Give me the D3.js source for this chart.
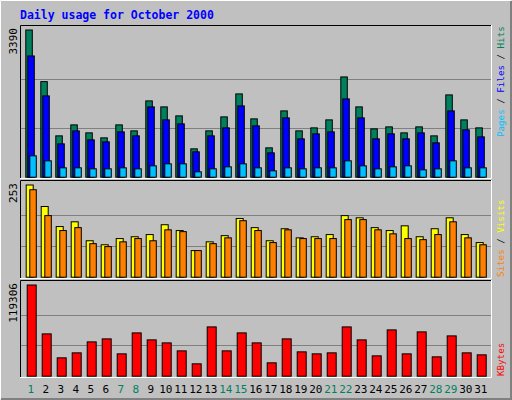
<!DOCTYPE html><html><head><meta charset="utf-8"><script src="https://cdn.jsdelivr.net/npm/d3@7"></script>
<style>body{margin:0;background:#fff}</style></head><body><svg id="c" width="512" height="400"></svg><script>
const days=d3.range(1,32);
const weekend=[1,7,8,14,15,21,22,28,29];
const hits=[3390,2201,952,1205,1021,906,1205,1067,1757,1619,1412,653,1067,1389,1918,1343,676,1527,1067,1136,1320,2309,1619,1113,1159,1021,1159,952,1895,1320,1136];
const files=[2792,1872,768,1067,860,814,1044,952,1619,1320,1228,584,952,1136,1642,1182,561,1366,883,998,1044,1803,1366,883,998,883,1021,791,1527,1090,929];
const pages=[492,377,216,216,193,193,216,193,262,308,308,124,193,239,308,216,147,216,193,216,216,377,262,193,239,262,170,193,377,216,216];
const visits=[253,194,139,152,100,89,106,111,117,144,128,73,97,114,161,136,100,133,108,111,117,169,163,136,128,141,111,133,163,117,95];
const sites=[240,169,128,136,92,84,97,106,100,130,125,73,92,108,155,128,95,130,106,106,106,158,158,130,119,106,103,117,152,108,89];
const kbytes=[119306,55345,24018,30544,44902,48818,29239,56650,47513,43597,33155,16186,64482,33155,56650,43597,17491,48818,31849,29239,30544,64482,47513,26628,60566,29239,57955,25323,52734,30544,27933];
const maxLabels=["3390","253","119306"];

const svg=d3.select("#c");
const F="'DejaVu Sans Mono', monospace";
svg.append("rect").attr("x",0).attr("y",0).attr("width",512).attr("height",400).attr("fill","#c0c0c0");
svg.append("path").attr("d","M0.5,399.5V0.5H511.5").attr("stroke","#fff").attr("fill","none");
svg.append("path").attr("d","M1,399H511V1").attr("stroke","#808080").attr("stroke-width",2).attr("fill","none");
svg.append("text").attr("x",20).attr("y",19).attr("fill","#0000ff").attr("font-family",F).attr("font-weight","bold").attr("font-size",11.5).text("Daily usage for October 2000");

const x=d3.scaleLinear().domain([1,31]).range([25.3,475.3]);
const panels=[
 {top:25,bot:178,base:176.7,max:3390,lab:maxLabels[0]},
 {top:180,bot:278,base:276.7,max:253,lab:maxLabels[1]},
 {top:280,bot:377,base:375.7,max:119306,lab:maxLabels[2]}];
panels.forEach(p=>{
 svg.append("path").attr("d",`M${20.5},${p.bot}V${p.top+0.5}H491.5`).attr("stroke","#000").attr("fill","none");
 svg.append("path").attr("d",`M20,${p.bot+0.5}H491.5V${p.top}`).attr("stroke","#fff").attr("fill","none");
 p.y=d3.scaleLinear().domain([0,p.max]).range([p.base,p.base-(p.base-p.top-4.5)]);
 [1/3,2/3].forEach(f=>svg.append("line").attr("x1",21).attr("x2",491).attr("y1",Math.round(p.y(p.max*f))+0.5).attr("y2",Math.round(p.y(p.max*f))+0.5).attr("stroke","#808080"));
 svg.append("text").attr("transform",`translate(17,${p.top+3}) rotate(-90)`).attr("text-anchor","end").attr("font-family",F).attr("font-size",11).attr("fill","#000").text(p.lab);
});
function bars(data,p,dx,w,color){
 svg.append("g").selectAll("rect").data(data).join("rect")
  .attr("x",(d,i)=>x(days[i])+dx+0.5).attr("width",w-1)
  .attr("y",d=>p.y(d)+0.5).attr("height",d=>p.base-p.y(d))
  .attr("fill",color).attr("stroke","#000");
}
bars(hits,panels[0],0,7.5,"#00805c");
bars(files,panels[0],2,7.5,"#0000ff");
bars(pages,panels[0],4,7.5,"#00c0ff");
bars(visits,panels[1],0.4,8,"#ffff00");
bars(sites,panels[1],4,7.5,"#ff8000");
bars(kbytes,panels[2],1.4,10,"#ff0000");
svg.append("g").selectAll("text").data(days).join("text")
 .attr("x",d=>x(d)+5.5).attr("y",393).attr("text-anchor","middle").attr("font-family",F).attr("font-size",11)
 .attr("fill",d=>weekend.includes(d)?"#008060":"#000").text(d=>d);
function side(y,parts){
 const t=svg.append("text").attr("transform",`translate(504,${y}) rotate(-90)`).attr("font-family",F).attr("font-size",9.2);
 parts.forEach(([s,c])=>t.append("tspan").attr("fill",c).text(s));
}
side(137,[["Pages","#00c0ff"],[" / ","#000"],["Files","#0000ff"],[" / ","#000"],["Hits","#00805c"]]);
side(277,[["Sites","#ff8000"],[" / ","#000"],["Visits","#ffff00"]]);
side(376,[["KBytes","#ff0000"]]);
</script></body></html>
